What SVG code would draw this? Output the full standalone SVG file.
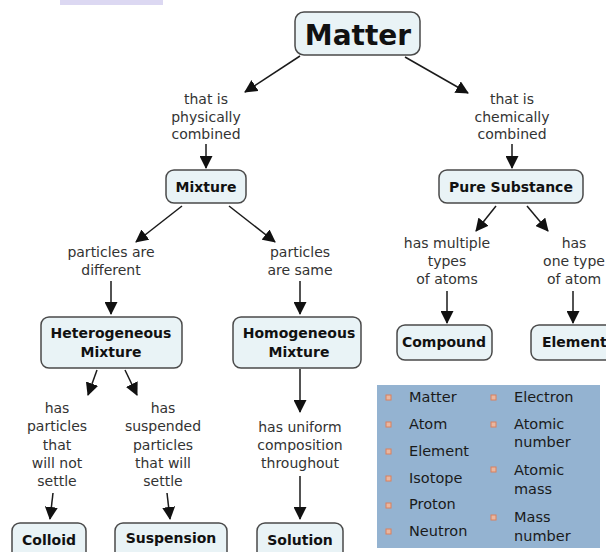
<svg xmlns="http://www.w3.org/2000/svg" width="606" height="552" viewBox="0 0 606 552">
<style>
.node rect{fill:#e9f3f6;stroke:#4a4a4a;stroke-width:1.5}
.nt{font-family:"DejaVu Sans",Verdana,sans-serif;font-weight:bold;font-size:14px;fill:#111;text-anchor:middle}
.lbl{font-family:"DejaVu Sans",Verdana,sans-serif;font-size:14px;fill:#333;text-anchor:middle}
.conn line{stroke:#1a1a1a;stroke-width:1.5;marker-end:url(#arr)}
.lg{font-family:"DejaVu Sans","Liberation Sans",sans-serif;font-size:14.5px;fill:#1a1a1a}
.bul{fill:#e9b7a0;stroke:#d9805e;stroke-width:1}
</style>
<defs>
<marker id="arr" markerUnits="userSpaceOnUse" markerWidth="13" markerHeight="13" refX="12" refY="6.5" orient="auto">
<path d="M0,0 L13,6.5 L0,13 z" fill="#111"/>
</marker>
</defs>
<rect x="60" y="0" width="103" height="5" fill="#dcd8f2"/>
<g class="conn">
<line x1="300" y1="56" x2="245" y2="92"/>
<line x1="405" y1="57" x2="468" y2="93"/>
<line x1="206" y1="144" x2="206" y2="168"/>
<line x1="512" y1="144" x2="512" y2="168"/>
<line x1="182" y1="206" x2="136" y2="242"/>
<line x1="229" y1="206" x2="275" y2="242"/>
<line x1="111" y1="281" x2="111" y2="314"/>
<line x1="300" y1="281" x2="300" y2="314"/>
<line x1="496" y1="206" x2="476" y2="231"/>
<line x1="527" y1="206" x2="548" y2="231"/>
<line x1="447" y1="291" x2="447" y2="323"/>
<line x1="573" y1="291" x2="573" y2="323"/>
<line x1="97" y1="370" x2="88" y2="395"/>
<line x1="125" y1="370" x2="137" y2="395"/>
<line x1="300" y1="369" x2="300" y2="412"/>
<line x1="53" y1="493" x2="50" y2="519"/>
<line x1="167" y1="493" x2="170" y2="519"/>
<line x1="300" y1="476" x2="300" y2="519"/>
</g>
<g id="matter" class="node"><rect x="295" y="12" width="125" height="43" rx="9"/><text class="nt" x="358" y="45" style="font-size:28px">Matter</text></g>
<g id="mixture" class="node"><rect x="166" y="170" width="80" height="33" rx="8"/><text class="nt" x="206" y="192">Mixture</text></g>
<g id="pure" class="node"><rect x="439" y="170" width="144" height="33" rx="8"/><text class="nt" x="511" y="192">Pure Substance</text></g>
<g id="hetero" class="node"><rect x="41" y="317" width="141" height="51" rx="8"/><text class="nt" x="111" y="338">Heterogeneous</text><text class="nt" x="111" y="357">Mixture</text></g>
<g id="homo" class="node"><rect x="233" y="317" width="128" height="51" rx="8"/><text class="nt" x="299" y="338">Homogeneous</text><text class="nt" x="299" y="357">Mixture</text></g>
<g id="compound" class="node"><rect x="397" y="325" width="95" height="35" rx="8"/><text class="nt" x="444" y="347">Compound</text></g>
<g id="element" class="node"><rect x="531" y="325" width="90" height="35" rx="8"/><text class="nt" x="542" y="347" style="text-anchor:start">Element</text></g>
<g id="colloid" class="node"><rect x="12" y="523" width="74" height="40" rx="8"/><text class="nt" x="49" y="545">Colloid</text></g>
<g id="suspension" class="node"><rect x="115" y="523" width="112" height="40" rx="8"/><text class="nt" x="171" y="543">Suspension</text></g>
<g id="solution" class="node"><rect x="257" y="523" width="86" height="40" rx="8"/><text class="nt" x="300" y="545">Solution</text></g>
<g id="labels">
<text class="lbl" x="206" y="104">that is</text><text class="lbl" x="206" y="122">physically</text><text class="lbl" x="206" y="139">combined</text>
<text class="lbl" x="512" y="104">that is</text><text class="lbl" x="512" y="122">chemically</text><text class="lbl" x="512" y="139">combined</text>
<text class="lbl" x="111" y="257">particles are</text><text class="lbl" x="111" y="275">different</text>
<text class="lbl" x="300" y="257">particles</text><text class="lbl" x="300" y="275">are same</text>
<text class="lbl" x="447" y="248">has multiple</text><text class="lbl" x="447" y="266">types</text><text class="lbl" x="447" y="284">of atoms</text>
<text class="lbl" x="574" y="248">has</text><text class="lbl" x="574" y="266">one type</text><text class="lbl" x="574" y="284">of atom</text>
<text class="lbl" x="57" y="413">has</text><text class="lbl" x="57" y="431">particles</text><text class="lbl" x="57" y="450">that</text><text class="lbl" x="57" y="468">will not</text><text class="lbl" x="57" y="486">settle</text>
<text class="lbl" x="163" y="413">has</text><text class="lbl" x="163" y="431">suspended</text><text class="lbl" x="163" y="450">particles</text><text class="lbl" x="163" y="468">that will</text><text class="lbl" x="163" y="486">settle</text>
<text class="lbl" x="300" y="432">has uniform</text><text class="lbl" x="300" y="450">composition</text><text class="lbl" x="300" y="468">throughout</text>
</g>
<g id="legend">
<rect x="377" y="385" width="223" height="163" fill="#94b3d1"/>
<rect class="bul" x="386" y="395" width="5" height="5"/><text class="lg" x="409" y="402">Matter</text>
<rect class="bul" x="386" y="422" width="5" height="5"/><text class="lg" x="409" y="429">Atom</text>
<rect class="bul" x="386" y="449" width="5" height="5"/><text class="lg" x="409" y="456">Element</text>
<rect class="bul" x="386" y="476" width="5" height="5"/><text class="lg" x="409" y="483">Isotope</text>
<rect class="bul" x="386" y="503" width="5" height="5"/><text class="lg" x="409" y="509">Proton</text>
<rect class="bul" x="386" y="529" width="5" height="5"/><text class="lg" x="409" y="536">Neutron</text>
<rect class="bul" x="491" y="395" width="5" height="5"/><text class="lg" x="514" y="402">Electron</text>
<rect class="bul" x="491" y="422" width="5" height="5"/><text class="lg" x="514" y="429">Atomic</text><text class="lg" x="514" y="447">number</text>
<rect class="bul" x="491" y="467" width="5" height="5"/><text class="lg" x="514" y="475">Atomic</text><text class="lg" x="514" y="494">mass</text>
<rect class="bul" x="491" y="515" width="5" height="5"/><text class="lg" x="514" y="522">Mass</text><text class="lg" x="514" y="541">number</text>
</g>
</svg>
